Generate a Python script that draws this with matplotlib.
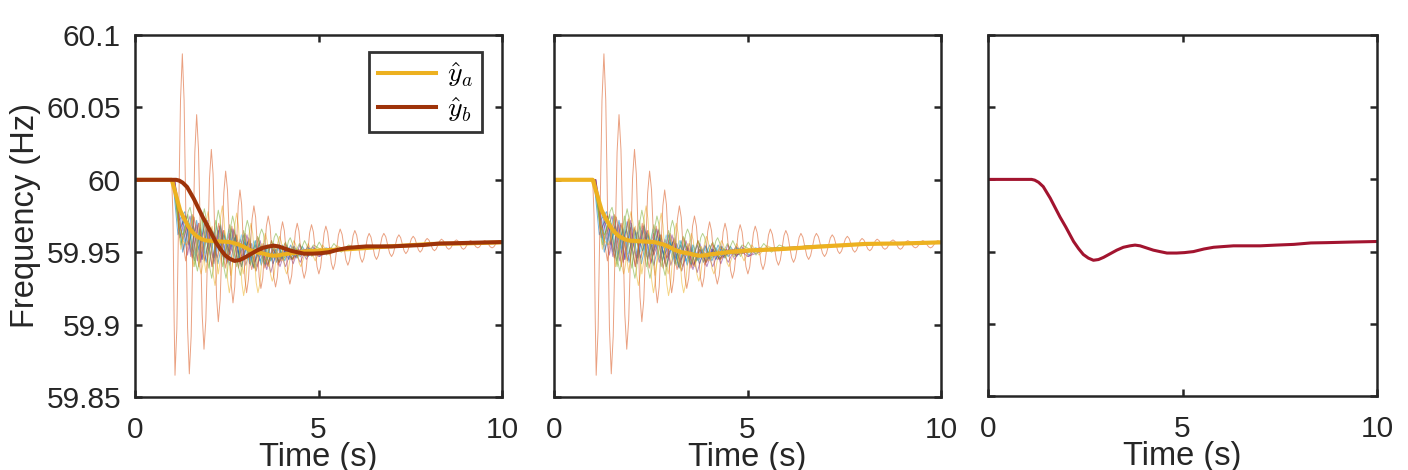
import numpy as np
import matplotlib
matplotlib.use('Agg')
import matplotlib.pyplot as plt

plt.rcParams['font.family'] = ['Liberation Sans', 'DejaVu Sans']
plt.rcParams['mathtext.fontset'] = 'cm'

# ---------------------------------------------------------------------------
# Data (time in s, frequency in Hz)
# ---------------------------------------------------------------------------

# ŷ_a : aggregated estimate (thick yellow)
ya_t = [0, 1.0, 1.1, 1.23, 1.34, 1.45, 1.56, 1.68, 1.82, 1.95, 2.08, 2.22, 2.4, 2.59,
        2.73, 2.86, 3.0, 3.13, 3.3, 3.5, 3.65, 3.77, 3.9, 4.04, 4.2, 4.4, 4.62, 4.86,
        5.31, 5.75, 6.2, 6.65, 7.13, 7.6, 8.04, 8.5, 8.95, 9.5, 10.0]
ya_f = [60.0, 60.0, 59.991, 59.979, 59.973, 59.968, 59.964, 59.961, 59.959, 59.958,
        59.9578, 59.9575, 59.9573, 59.957, 59.956, 59.955, 59.9533, 59.9515, 59.950,
        59.949, 59.948, 59.9476, 59.9478, 59.9485, 59.949, 59.9497, 59.9503, 59.951,
        59.9515, 59.952, 59.9527, 59.9535, 59.9543, 59.955, 59.9557, 59.9559, 59.956,
        59.9564, 59.9568]

# ŷ_b : reduced model output (thick brown / red)
yb_t = [0, 1.12, 1.2, 1.3, 1.42, 1.6, 1.85, 2.0, 2.2, 2.33, 2.45, 2.58, 2.71, 2.84,
        2.97, 3.14, 3.31, 3.48, 3.65, 3.78, 3.91, 4.08, 4.25, 4.42, 4.6, 4.85, 5.05,
        5.28, 5.55, 5.8, 6.05, 6.31, 6.6, 7.0, 7.4, 7.86, 8.3, 8.71, 9.3, 10.0]
yb_f = [60.0, 60.0, 59.9995, 59.998, 59.995, 59.987, 59.974, 59.967, 59.957, 59.952,
        59.948, 59.9455, 59.944, 59.9445, 59.946, 59.9485, 59.951, 59.953, 59.954,
        59.9545, 59.954, 59.9525, 59.951, 59.950, 59.949, 59.949, 59.9493, 59.950,
        59.9518, 59.953, 59.9535, 59.954, 59.954, 59.954, 59.9545, 59.955, 59.956,
        59.9562, 59.9566, 59.957]

# individual machine frequencies (thin lines)
org_t = [0, 1.0, 1.035, 1.065, 1.09, 1.14, 1.19, 1.24, 1.29, 1.3375, 1.385, 1.4325, 1.48,
         1.53, 1.58, 1.63, 1.68, 1.73, 1.78, 1.83, 1.88, 1.93, 1.98, 2.03, 2.08, 2.1275,
         2.175, 2.2225, 2.27, 2.32, 2.37, 2.42, 2.47, 2.52, 2.57, 2.62, 2.67, 2.7175,
         2.765, 2.8125, 2.86, 2.905, 2.95, 2.995, 3.04, 3.09, 3.14, 3.19, 3.24, 3.2875,
         3.335, 3.3825, 3.43, 3.48, 3.53, 3.58, 3.63, 3.68, 3.73, 3.78, 3.83, 3.8775,
         3.925, 3.9725, 4.02, 4.07, 4.12, 4.17, 4.22, 4.27, 4.32, 4.37, 4.42, 4.4675,
         4.515, 4.5625, 4.61, 4.66, 4.71, 4.76, 4.81, 4.86, 4.91, 4.96, 5.01, 5.0575,
         5.105, 5.1525, 5.2, 5.25, 5.3, 5.35, 5.4, 5.4475, 5.495, 5.5425, 5.59, 5.6425,
         5.695, 5.7475, 5.8, 5.8475, 5.895, 5.9425, 5.99, 6.04, 6.09, 6.14, 6.19, 6.2375,
         6.285, 6.3325, 6.38, 6.43, 6.48, 6.53, 6.58, 6.63, 6.68, 6.73, 6.78, 6.8325,
         6.885, 6.9375, 6.99, 7.04, 7.09, 7.14, 7.19, 7.2375, 7.285, 7.3325, 7.38, 7.43,
         7.48, 7.53, 7.58, 7.6275, 7.675, 7.7225, 7.77, 7.8175, 7.865, 7.9125, 7.96, 8.01,
         8.06, 8.11, 8.16, 8.2075, 8.255, 8.3025, 8.35, 8.4, 8.45, 8.5, 8.55, 8.6025,
         8.655, 8.7075, 8.76, 8.8075, 8.855, 8.9025, 8.95, 8.9975, 9.045, 9.0925, 9.14,
         9.19, 9.24, 9.29, 9.34, 9.3875, 9.435, 9.4825, 9.53, 9.58, 9.63, 9.68, 9.73,
         9.7775, 9.825, 9.8725, 9.92, 10.0]
org_f = [60.0, 60.0, 59.975, 59.905, 59.865, 59.897, 59.976, 60.055, 60.087, 60.055,
         59.9765, 59.898, 59.866, 59.892, 59.9555, 60.019, 60.045, 60.021, 59.964, 59.907,
         59.883, 59.903, 59.952, 60.001, 60.021, 60.004, 59.9615, 59.919, 59.902, 59.917,
         59.954, 59.991, 60.006, 59.993, 59.9605, 59.928, 59.915, 59.926, 59.954, 59.982,
         59.993, 59.983, 59.9575, 59.932, 59.922, 59.931, 59.952, 59.973, 59.982, 59.974,
         59.9535, 59.933, 59.925, 59.932, 59.95, 59.968, 59.975, 59.968, 59.9505, 59.933,
         59.926, 59.9326, 59.9485, 59.9644, 59.971, 59.9647, 59.9495, 59.9343, 59.928,
         59.9341, 59.949, 59.9639, 59.97, 59.9645, 59.951, 59.9375, 59.932, 59.9374,
         59.9505, 59.9636, 59.969, 59.964, 59.952, 59.94, 59.935, 59.9398, 59.9515,
         59.9632, 59.968, 59.9636, 59.953, 59.9424, 59.938, 59.9421, 59.952, 59.9619,
         59.966, 59.9623, 59.9535, 59.9447, 59.941, 59.9445, 59.953, 59.9615, 59.965,
         59.9618, 59.954, 59.9462, 59.943, 59.9459, 59.953, 59.9601, 59.963, 59.9604,
         59.954, 59.9476, 59.945, 59.9476, 59.954, 59.9604, 59.963, 59.9607, 59.955,
         59.9493, 59.947, 59.9492, 59.9545, 59.9598, 59.962, 59.9601, 59.9555, 59.9509,
         59.949, 59.9508, 59.955, 59.9592, 59.961, 59.9594, 59.9555, 59.9516, 59.95,
         59.9514, 59.9548, 59.9581, 59.9595, 59.9583, 59.9553, 59.9522, 59.951, 59.9522,
         59.955, 59.9578, 59.959, 59.958, 59.9555, 59.953, 59.952, 59.9529, 59.9553,
         59.9576, 59.9585, 59.9576, 59.9553, 59.9529, 59.952, 59.9529, 59.955, 59.9571,
         59.958, 59.9573, 59.9555, 59.9537, 59.953, 59.9537, 59.9555, 59.9573, 59.958,
         59.9573, 59.9555, 59.9537, 59.953, 59.9537, 59.9555, 59.9573, 59.958, 59.9565]

grn_t = [0, 1.02, 1.12, 1.2, 1.3, 1.35, 1.4, 1.45, 1.5, 1.55, 1.6, 1.65, 1.7, 1.7475,
         1.795, 1.8425, 1.89, 1.94, 1.99, 2.04, 2.09, 2.135, 2.18, 2.225, 2.27, 2.3225,
         2.375, 2.4275, 2.48, 2.525, 2.57, 2.615, 2.66, 2.7125, 2.765, 2.8175, 2.87,
         2.9175, 2.965, 3.0125, 3.06, 3.1075, 3.155, 3.2025, 3.25, 3.3, 3.35, 3.4, 3.45,
         3.5, 3.55, 3.6, 3.65, 3.6975, 3.745, 3.7925, 3.84, 3.89, 3.94, 3.99, 4.04,
         4.0875, 4.135, 4.1825, 4.23, 4.43, 4.62, 4.82, 5.02, 5.22, 5.42, 5.62, 5.82,
         6.1, 6.5, 7.0, 8.0, 9.0, 10.0]
grn_f = [60.0, 60.0, 59.985, 59.968, 59.962, 59.9648, 59.9715, 59.9782, 59.981, 59.9746,
         59.959, 59.9434, 59.937, 59.9433, 59.9585, 59.9737, 59.98, 59.973, 59.956,
         59.939, 59.932, 59.9389, 59.9555, 59.9721, 59.979, 59.9721, 59.9555, 59.9389,
         59.932, 59.9383, 59.9535, 59.9687, 59.975, 59.969, 59.9545, 59.94, 59.934,
         59.9395, 59.953, 59.9665, 59.972, 59.9672, 59.9555, 59.9438, 59.939, 59.9429,
         59.9525, 59.9621, 59.966, 59.9626, 59.9545, 59.9464, 59.943, 59.9459, 59.953,
         59.9601, 59.963, 59.9604, 59.954, 59.9476, 59.945, 59.9472, 59.9525, 59.9578,
         59.96, 59.946, 59.958, 59.947, 59.957, 59.948, 59.956, 59.95, 59.955, 59.952,
         59.9545, 59.955, 59.9555, 59.956, 59.957]

ylw_t = [0, 1.05, 1.12, 1.2, 1.3, 1.4, 1.45, 1.5, 1.55, 1.6, 1.65, 1.7, 1.75, 1.8,
         1.8475, 1.895, 1.9425, 1.99, 2.0375, 2.085, 2.1325, 2.18, 2.23, 2.28, 2.33, 2.38,
         2.4275, 2.475, 2.5225, 2.57, 2.62, 2.67, 2.72, 2.77, 2.8175, 2.865, 2.9125, 2.96,
         3.01, 3.06, 3.11, 3.16, 3.2075, 3.255, 3.3025, 3.35, 3.4, 3.45, 3.5, 3.55,
         3.5975, 3.645, 3.6925, 3.74, 3.79, 3.84, 3.89, 3.94, 3.9875, 4.035, 4.0825, 4.13,
         4.18, 4.23, 4.28, 4.33, 4.3775, 4.425, 4.4725, 4.52, 4.72, 4.91, 5.11, 5.3, 5.5,
         5.8, 6.4, 7.2, 8.5, 10.0]
ylw_f = [60.0, 60.0, 59.99, 59.97, 59.958, 59.955, 59.9579, 59.965, 59.9721, 59.975,
         59.9692, 59.955, 59.9408, 59.935, 59.9413, 59.9565, 59.9717, 59.978, 59.9706,
         59.9525, 59.9344, 59.927, 59.935, 59.9545, 59.974, 59.982, 59.9732, 59.952,
         59.9308, 59.922, 59.93, 59.9495, 59.969, 59.977, 59.9687, 59.9485, 59.9283,
         59.92, 59.9273, 59.945, 59.9627, 59.97, 59.963, 59.946, 59.929, 59.922, 59.928,
         59.9425, 59.957, 59.963, 59.9582, 59.9465, 59.9348, 59.93, 59.9345, 59.9455,
         59.9565, 59.961, 59.9572, 59.948, 59.9388, 59.935, 59.9384, 59.9465, 59.9546,
         59.958, 59.9554, 59.949, 59.9426, 59.94, 59.956, 59.944, 59.955, 59.948, 59.9545,
         59.951, 59.953, 59.954, 59.9555, 59.957]

blu1_t = [0, 1.05, 1.2, 1.36, 1.52, 1.68, 1.84, 2.0, 2.16, 2.32, 2.48, 2.64, 2.8, 2.96,
          3.12, 3.28, 3.44, 3.6, 3.76, 3.92, 4.08, 4.24, 4.4, 4.56, 4.72, 4.88, 5.04,
          5.2, 5.5, 6.0, 7.0, 8.0, 10.0]
blu1_f = [60.0, 60.0, 59.972, 59.978, 59.950, 59.972, 59.945, 59.970, 59.946, 59.968,
          59.947, 59.966, 59.944, 59.962, 59.942, 59.958, 59.941, 59.955, 59.942, 59.954,
          59.944, 59.955, 59.946, 59.954, 59.947, 59.953, 59.948, 59.953, 59.951, 59.952,
          59.954, 59.9555, 59.957]

pur1_t = [0, 1.07, 1.25, 1.43, 1.61, 1.79, 1.97, 2.15, 2.33, 2.51, 2.69, 2.87, 3.05,
          3.23, 3.41, 3.59, 3.77, 3.95, 4.13, 4.31, 4.49, 4.67, 4.85, 5.03, 5.3, 5.7,
          6.3, 7.5, 10.0]
pur1_f = [60.0, 60.0, 59.977, 59.948, 59.974, 59.943, 59.972, 59.942, 59.969, 59.943,
          59.966, 59.942, 59.962, 59.939, 59.958, 59.938, 59.956, 59.940, 59.955, 59.942,
          59.955, 59.945, 59.954, 59.947, 59.953, 59.951, 59.953, 59.955, 59.9568]

cyn_t = [0, 1.04, 1.18, 1.33, 1.48, 1.63, 1.78, 1.93, 2.08, 2.23, 2.38, 2.53, 2.68,
         2.83, 2.98, 3.13, 3.28, 3.43, 3.58, 3.73, 3.88, 4.03, 4.18, 4.33, 4.6, 5.0,
         5.6, 6.5, 8.0, 10.0]
cyn_f = [60.0, 60.0, 59.968, 59.952, 59.970, 59.948, 59.967, 59.949, 59.966, 59.950,
         59.964, 59.950, 59.962, 59.948, 59.959, 59.945, 59.955, 59.943, 59.953, 59.944,
         59.953, 59.946, 59.953, 59.947, 59.950, 59.951, 59.952, 59.954, 59.9555, 59.957]

red_t = [0, 1.06, 1.22, 1.39, 1.56, 1.73, 1.9, 2.07, 2.24, 2.41, 2.58, 2.75, 2.92,
         3.09, 3.26, 3.43, 3.6, 3.77, 3.94, 4.11, 4.28, 4.45, 4.7, 5.1, 5.7, 6.5, 8.0,
         10.0]
red_f = [60.0, 60.0, 59.966, 59.975, 59.946, 59.970, 59.944, 59.967, 59.946, 59.965,
         59.948, 59.962, 59.946, 59.958, 59.943, 59.954, 59.941, 59.952, 59.943, 59.952,
         59.945, 59.952, 59.948, 59.951, 59.952, 59.954, 59.9555, 59.957]

blu2_t = [0, 1.03, 1.17, 1.31, 1.45, 1.59, 1.73, 1.87, 2.01, 2.15, 2.29, 2.43, 2.57,
          2.71, 2.85, 2.99, 3.13, 3.27, 3.41, 3.55, 3.69, 3.83, 3.97, 4.11, 4.25, 4.39,
          4.6, 5.0, 5.6, 6.5, 8.0, 10.0]
blu2_f = [60.0, 60.0, 59.962, 59.972, 59.955, 59.968, 59.952, 59.966, 59.951, 59.964,
          59.951, 59.962, 59.950, 59.960, 59.948, 59.957, 59.946, 59.955, 59.944, 59.953,
          59.944, 59.952, 59.945, 59.952, 59.946, 59.952, 59.949, 59.951, 59.952, 59.954,
          59.9555, 59.957]

blu3_t = [0, 1.06, 1.14, 1.3, 1.46, 1.62, 1.78, 1.94, 2.1, 2.26, 2.42, 2.58, 2.74, 2.9,
          3.06, 3.22, 3.38, 3.54, 3.7, 3.86, 4.02, 4.18, 4.34, 4.5, 4.7, 5.0, 5.5, 6.2,
          7.5, 10.0]
blu3_f = [60.0, 60.0, 59.985, 59.950, 59.968, 59.944, 59.966, 59.943, 59.965, 59.942,
          59.963, 59.941, 59.960, 59.940, 59.957, 59.940, 59.956, 59.941, 59.955, 59.943,
          59.955, 59.945, 59.954, 59.947, 59.953, 59.950, 59.952, 59.9535, 59.955, 59.957]

pur2_t = [0, 1.08, 1.3, 1.5, 1.7, 1.9, 2.1, 2.3, 2.5, 2.7, 2.9, 3.1, 3.3, 3.5, 3.7,
          3.9, 4.1, 4.3, 4.5, 4.7, 5.0, 5.4, 6.0, 7.0, 8.5, 10.0]
pur2_f = [60.0, 60.0, 59.958, 59.975, 59.944, 59.971, 59.940, 59.968, 59.942, 59.965,
          59.940, 59.960, 59.937, 59.956, 59.936, 59.955, 59.940, 59.954, 59.943, 59.954,
          59.947, 59.951, 59.952, 59.954, 59.9557, 59.957]

pur3_t = [0, 1.09, 1.22, 1.37, 1.52, 1.67, 1.82, 1.97, 2.12, 2.27, 2.42, 2.57, 2.72,
          2.87, 3.02, 3.17, 3.32, 3.47, 3.62, 3.77, 3.92, 4.07, 4.22, 4.5, 4.9, 5.5, 6.5,
          8.0, 10.0]
pur3_f = [60.0, 60.0, 59.960, 59.973, 59.947, 59.969, 59.945, 59.967, 59.946, 59.965,
          59.945, 59.963, 59.943, 59.959, 59.941, 59.956, 59.940, 59.953, 59.941, 59.952,
          59.943, 59.952, 59.945, 59.949, 59.951, 59.9525, 59.954, 59.9555, 59.957]

cyn2_t = [0, 1.05, 1.2, 1.37, 1.54, 1.71, 1.88, 2.05, 2.22, 2.39, 2.56, 2.73, 2.9, 3.07,
          3.24, 3.41, 3.58, 3.75, 3.92, 4.09, 4.26, 4.5, 4.9, 5.5, 6.5, 8.0, 10.0]
cyn2_f = [60.0, 60.0, 59.978, 59.955, 59.975, 59.950, 59.971, 59.948, 59.968, 59.947,
          59.966, 59.946, 59.962, 59.945, 59.958, 59.944, 59.955, 59.945, 59.954, 59.946,
          59.953, 59.949, 59.951, 59.9525, 59.954, 59.9555, 59.957]

grn2_t = [0, 1.04, 1.25, 1.44, 1.63, 1.82, 2.01, 2.2, 2.39, 2.58, 2.77, 2.96, 3.15,
          3.34, 3.53, 3.72, 3.91, 4.1, 4.29, 4.48, 4.67, 4.86, 5.2, 5.6, 6.2, 7.0, 8.5,
          10.0]
grn2_f = [60.0, 60.0, 59.955, 59.976, 59.940, 59.975, 59.939, 59.972, 59.940, 59.969,
          59.940, 59.965, 59.941, 59.961, 59.942, 59.958, 59.943, 59.957, 59.945, 59.956,
          59.947, 59.955, 59.950, 59.953, 59.953, 59.954, 59.9556, 59.957]

org2_t = [0, 1.07, 1.2, 1.38, 1.56, 1.74, 1.92, 2.1, 2.28, 2.46, 2.64, 2.82, 3.0, 3.18,
          3.36, 3.54, 3.72, 3.9, 4.08, 4.3, 4.6, 5.0, 5.6, 6.5, 8.0, 10.0]
org2_f = [60.0, 60.0, 59.975, 59.944, 59.976, 59.940, 59.973, 59.940, 59.970, 59.939,
          59.968, 59.939, 59.963, 59.938, 59.960, 59.939, 59.958, 59.941, 59.956, 59.945,
          59.952, 59.951, 59.9525, 59.954, 59.9555, 59.957]

ylw2_t = [0, 1.05, 1.25, 1.42, 1.59, 1.76, 1.93, 2.1, 2.27, 2.44, 2.61, 2.78, 2.95,
          3.12, 3.29, 3.46, 3.63, 3.8, 4.0, 4.3, 4.7, 5.3, 6.2, 7.5, 10.0]
ylw2_f = [60.0, 60.0, 59.952, 59.972, 59.940, 59.970, 59.936, 59.968, 59.935, 59.965,
          59.934, 59.962, 59.935, 59.959, 59.937, 59.956, 59.940, 59.954, 59.944, 59.953,
          59.949, 59.951, 59.953, 59.955, 59.957]

thin_lines = [
    (blu1_t, blu1_f, '#0072BD'),
    (pur1_t, pur1_f, '#7E2F8E'),
    (cyn_t, cyn_f, '#4DBEEE'),
    (red_t, red_f, '#A2142F'),
    (blu2_t, blu2_f, '#0072BD'),
    (pur2_t, pur2_f, '#7E2F8E'),
    (blu3_t, blu3_f, '#0072BD'),
    (pur3_t, pur3_f, '#7E2F8E'),
    (cyn2_t, cyn2_f, '#4DBEEE'),
    (org2_t, org2_f, '#D95319'),
    (ylw2_t, ylw2_f, '#EDB120'),
    (grn2_t, grn2_f, '#77AC30'),
    (grn_t, grn_f, '#77AC30'),
    (ylw_t, ylw_f, '#EDB120'),
    (org_t, org_f, '#D95319'),
]

YA_COLOR = '#EDB120'
YB_COLOR = '#9E3309'
Y3_COLOR = '#A2142F'
AX_COLOR = '#262626'

# ---------------------------------------------------------------------------
# Figure
# ---------------------------------------------------------------------------
W, H = 1408, 470
fig = plt.figure(figsize=(W / 100, H / 100), dpi=100)


def px_axes(left, right, top, bottom):
    return fig.add_axes([left / W, (H - bottom) / H, (right - left) / W, (bottom - top) / H])


def style(ax, ylabels):
    ax.set_xlim(0, 10)
    ax.set_ylim(59.85, 60.1)
    ax.set_xticks([0, 5, 10])
    ax.set_yticks([59.85, 59.9, 59.95, 60.0, 60.05, 60.1])
    ax.tick_params(direction='in', length=5, width=1.8, top=True, right=True,
                   labelsize=21.5, colors=AX_COLOR)
    ax.tick_params(axis='x', pad=14)
    ax.tick_params(axis='y', pad=10)
    if ylabels:
        ax.set_yticklabels(['59.85', '59.9', '59.95', '60', '60.05', '60.1'])
    else:
        ax.set_yticklabels([])
    for s in ax.spines.values():
        s.set_linewidth(1.8)
        s.set_color(AX_COLOR)
    ax.set_xlabel('Time (s)', fontsize=23.5, color=AX_COLOR, labelpad=-2)


ax1 = px_axes(135, 502, 35, 397)
ax2 = px_axes(554, 941, 35, 397)
ax3 = px_axes(988, 1377, 35, 396)

for ax in (ax1, ax2):
    for t, f, c in thin_lines:
        ax.plot(t, f, color=c, lw=0.7, alpha=0.55)

l_a, = ax1.plot(ya_t, ya_f, color=YA_COLOR, lw=2.9, label=r'$\hat{y}_a$')
l_b, = ax1.plot(yb_t, yb_f, color=YB_COLOR, lw=2.9, label=r'$\hat{y}_b$')
ax2.plot(ya_t, ya_f, color=YA_COLOR, lw=3.0)
ax3.plot(yb_t, yb_f, color=Y3_COLOR, lw=2.2)

style(ax1, True)
style(ax2, False)
style(ax3, False)
ax1.set_ylabel('Frequency (Hz)', fontsize=23.5, color=AX_COLOR, labelpad=4)

leg = ax1.legend(handles=[l_a, l_b], loc='upper right',
                 bbox_to_anchor=((482 - 135) / 367, (397 - 52) / 362),
                 fontsize=20, frameon=True, fancybox=False, borderaxespad=0,
                 handlelength=2.1, handletextpad=0.4, borderpad=0.3, labelspacing=0.2)
leg.get_frame().set_edgecolor('black')
leg.get_frame().set_linewidth(2.0)

fig.savefig('out.png', dpi=100)
